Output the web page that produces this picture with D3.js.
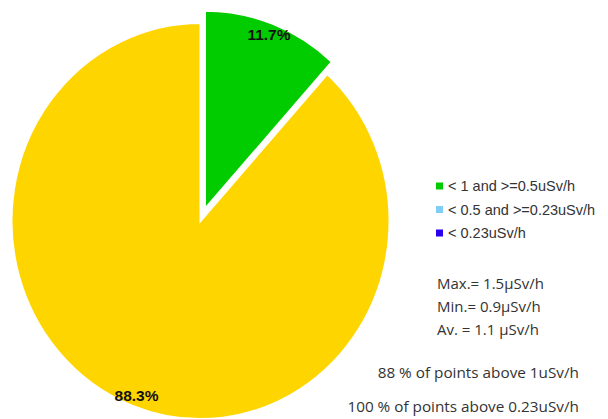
<!DOCTYPE html>
<html>
<head>
<meta charset="utf-8">
<script src="https://cdn.jsdelivr.net/npm/d3@7"></script>
<style>
  html, body { margin: 0; padding: 0; background: #fff; }
  svg { display: block; }
</style>
</head>
<body>
<svg id="chart" width="608" height="419"></svg>
<script>
// ---- data ----
const categories = ["< 1 and >=0.5uSv/h", "< 0.5 and >=0.23uSv/h", "< 0.23uSv/h", ">= 1uSv/h"];
const values = [11.7, 0, 0, 88.3];
const colors = ["#00cc00", "#80cdf8", "#2a00ee", "#ffd500"];
const legendItems = [0, 1, 2];
const statsLines = ["Max.= 1.5\u03bcSv/h", "Min.= 0.9\u03bcSv/h", "Av. = 1.1 \u03bcSv/h"];
const summaryLines = ["88 % of points above 1uSv/h", "100 % of points above 0.23uSv/h"];
const explodedIndex = 0;

// ---- layout ----
const svg = d3.select("#chart");
const cx = 200.5, cy = 221, r = 189, sy = 1.048, explode = 12.5, labelR = 178;

const pie = d3.pie().sort(null).value(d => d)(values);
const arc = d3.arc().innerRadius(0).outerRadius(r);

const g = svg.append("g").attr("transform", `translate(${cx},${cy}) scale(1,${sy})`);

g.selectAll("path")
  .data(pie.filter(d => d.value > 0))
  .join("path")
  .attr("d", arc)
  .attr("fill", d => colors[d.index])
  .attr("stroke", "#fff")
  .attr("stroke-width", 2)
  .attr("vector-effect", "non-scaling-stroke")
  .attr("transform", d => {
    if (d.index !== explodedIndex) return null;
    const m = (d.startAngle + d.endAngle) / 2;
    return `translate(${explode * Math.sin(m)},${-explode * Math.cos(m)})`;
  });

// labels (placed in unscaled coordinates)
svg.append("g").selectAll("text")
  .data(pie.filter(d => d.value > 0))
  .join("text")
  .attr("x", d => {
    const m = (d.startAngle + d.endAngle) / 2;
    const off = d.index === explodedIndex ? explode : 0;
    return cx + (labelR + off) * Math.sin(m);
  })
  .attr("y", d => {
    const m = (d.startAngle + d.endAngle) / 2;
    const off = d.index === explodedIndex ? explode : 0;
    return cy - (labelR + off) * Math.cos(m) * sy;
  })
  .attr("dy", "0.35em")
  .attr("text-anchor", "middle")
  .attr("font-family", "Liberation Sans, Arial, sans-serif")
  .attr("font-weight", "bold")
  .attr("font-size", 15.5)
  .attr("fill", "#111")
  .text(d => d3.format(".1f")(d.value) + "%");

// legend
const lg = svg.append("g").attr("transform", "translate(436,186)");
const rows = lg.selectAll("g").data(legendItems).join("g")
  .attr("transform", (d, i) => `translate(0,${i * 23.5})`);
rows.append("rect").attr("x", 0).attr("y", -3.5).attr("width", 7).attr("height", 7)
  .attr("fill", d => colors[d]);
rows.append("text").attr("x", 12).attr("y", 0).attr("dy", "0.35em")
  .attr("font-family", "Liberation Sans, Arial, sans-serif")
  .attr("font-size", 14.5)
  .attr("fill", "#333")
  .text(d => categories[d]);

// stats
svg.append("g").selectAll("text").data(statsLines).join("text")
  .attr("x", 437).attr("y", (d, i) => 284 + i * 23).attr("dy", "0.35em")
  .attr("font-family", "Open Sans, sans-serif").attr("font-size", 15)
  .attr("fill", "#333").text(d => d);

svg.append("g").selectAll("text").data(summaryLines).join("text")
  .attr("x", 579).attr("y", (d, i) => 373 + i * 34).attr("dy", "0.35em")
  .attr("text-anchor", "end")
  .attr("font-family", "Open Sans, sans-serif").attr("font-size", 15.3)
  .attr("fill", "#333").text(d => d);
</script>
</body>
</html>
